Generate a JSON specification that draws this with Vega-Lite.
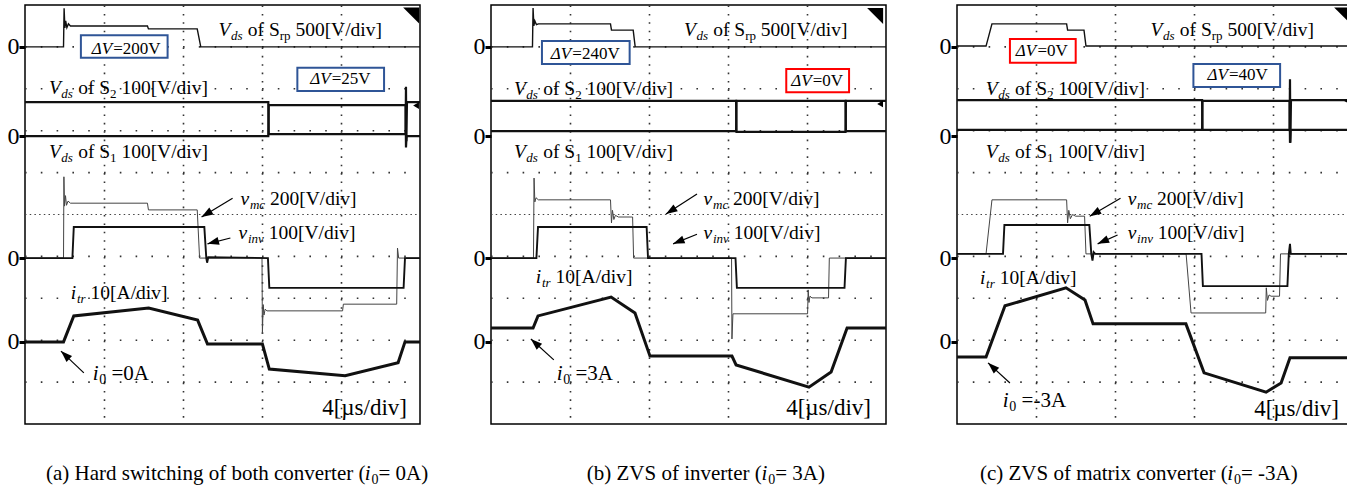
{
  "$schema": "https://vega.github.io/schema/vega-lite/v6.json",
  "background": "white",
  "padding": {"left": 6, "top": 4, "right": 5, "bottom": 5},
  "data": {"values": [
    {"p":"a","k":"gy","t":0,"t2":20,"v":1},{"p":"a","k":"gy","t":0,"t2":20,"v":2},{"p":"a","k":"gy","t":0,"t2":20,"v":3},{"p":"a","k":"gy","t":0,"t2":20,"v":4},
    {"p":"a","k":"gy","t":0,"t2":20,"v":6},{"p":"a","k":"gy","t":0,"t2":20,"v":7},{"p":"a","k":"gy","t":0,"t2":20,"v":8},{"p":"a","k":"gy","t":0,"t2":20,"v":9},
    {"p":"a","k":"gc","t":0,"t2":20,"v":5},
    {"p":"b","k":"gy","t":0,"t2":20,"v":1},{"p":"b","k":"gy","t":0,"t2":20,"v":2},{"p":"b","k":"gy","t":0,"t2":20,"v":3},{"p":"b","k":"gy","t":0,"t2":20,"v":4},
    {"p":"b","k":"gy","t":0,"t2":20,"v":6},{"p":"b","k":"gy","t":0,"t2":20,"v":7},{"p":"b","k":"gy","t":0,"t2":20,"v":8},{"p":"b","k":"gy","t":0,"t2":20,"v":9},
    {"p":"b","k":"gc","t":0,"t2":20,"v":5},
    {"p":"c","k":"gy","t":0,"t2":20,"v":1},{"p":"c","k":"gy","t":0,"t2":20,"v":2},{"p":"c","k":"gy","t":0,"t2":20,"v":3},{"p":"c","k":"gy","t":0,"t2":20,"v":4},
    {"p":"c","k":"gy","t":0,"t2":20,"v":6},{"p":"c","k":"gy","t":0,"t2":20,"v":7},{"p":"c","k":"gy","t":0,"t2":20,"v":8},{"p":"c","k":"gy","t":0,"t2":20,"v":9},
    {"p":"c","k":"gc","t":0,"t2":20,"v":5},

    {"p":"a","k":"box","zvs":false,"t":2.83,"t2":7.22,"v":9.28,"v2":8.74},
    {"p":"a","k":"box","zvs":false,"t":13.79,"t2":18.18,"v":8.5,"v2":7.95},
    {"p":"b","k":"box","zvs":false,"t":2.58,"t2":7.02,"v":9.14,"v2":8.59},
    {"p":"b","k":"box","zvs":true,"t":14.95,"t2":18.13,"v":8.47,"v2":7.92},
    {"p":"c","k":"box","zvs":true,"t":2.68,"t2":6.01,"v":9.19,"v2":8.62},
    {"p":"c","k":"box","zvs":false,"t":11.97,"t2":16.36,"v":8.59,"v2":8.04},

    {"p":"a","k":"srp","t":0,"v":9.0},{"p":"a","k":"srp","t":1.95,"v":9.0},{"p":"a","k":"srp","t":1.98,"v":9.92},{"p":"a","k":"srp","t":2.02,"v":9.45},{"p":"a","k":"srp","t":2.06,"v":9.62},{"p":"a","k":"srp","t":2.12,"v":9.46},{"p":"a","k":"srp","t":2.2,"v":9.55},{"p":"a","k":"srp","t":2.3,"v":9.5},{"p":"a","k":"srp","t":6.2,"v":9.5},{"p":"a","k":"srp","t":6.25,"v":9.43},{"p":"a","k":"srp","t":8.72,"v":9.43},{"p":"a","k":"srp","t":8.9,"v":9.0},{"p":"a","k":"srp","t":20,"v":9.0},
    {"p":"a","k":"s2","t":0,"v":7.68},{"p":"a","k":"s2","t":12.32,"v":7.68},{"p":"a","k":"s2","t":12.34,"v":6.92},{"p":"a","k":"s2","t":19.27,"v":6.92},{"p":"a","k":"s2","t":19.29,"v":8.05},{"p":"a","k":"s2","t":19.31,"v":6.75},{"p":"a","k":"s2","t":19.34,"v":7.68},{"p":"a","k":"s2","t":20,"v":7.68},
    {"p":"a","k":"s1","t":0,"v":6.87},{"p":"a","k":"s1","t":12.32,"v":6.87},{"p":"a","k":"s1","t":12.34,"v":7.61},{"p":"a","k":"s1","t":19.27,"v":7.61},{"p":"a","k":"s1","t":19.29,"v":6.6},{"p":"a","k":"s1","t":19.32,"v":6.87},{"p":"a","k":"s1","t":20,"v":6.87},
    {"p":"a","k":"vmc","t":0,"v":3.96},{"p":"a","k":"vmc","t":1.95,"v":3.96},{"p":"a","k":"vmc","t":1.97,"v":5.9},{"p":"a","k":"vmc","t":2.0,"v":5.2},{"p":"a","k":"vmc","t":2.05,"v":5.45},{"p":"a","k":"vmc","t":2.1,"v":5.22},{"p":"a","k":"vmc","t":2.18,"v":5.32},{"p":"a","k":"vmc","t":2.3,"v":5.27},{"p":"a","k":"vmc","t":6.2,"v":5.27},{"p":"a","k":"vmc","t":6.25,"v":5.11},{"p":"a","k":"vmc","t":8.72,"v":5.11},{"p":"a","k":"vmc","t":8.84,"v":3.96},{"p":"a","k":"vmc","t":12.0,"v":3.96},{"p":"a","k":"vmc","t":12.02,"v":2.15},{"p":"a","k":"vmc","t":12.06,"v":2.85},{"p":"a","k":"vmc","t":12.1,"v":2.6},{"p":"a","k":"vmc","t":12.16,"v":2.74},{"p":"a","k":"vmc","t":12.25,"v":2.7},{"p":"a","k":"vmc","t":16.08,"v":2.7},{"p":"a","k":"vmc","t":16.12,"v":2.86},{"p":"a","k":"vmc","t":18.82,"v":2.86},{"p":"a","k":"vmc","t":18.86,"v":4.2},{"p":"a","k":"vmc","t":18.92,"v":3.96},{"p":"a","k":"vmc","t":20,"v":3.96},
    {"p":"a","k":"vinv","t":0,"v":3.96},{"p":"a","k":"vinv","t":2.4,"v":3.96},{"p":"a","k":"vinv","t":2.47,"v":4.7},{"p":"a","k":"vinv","t":9.08,"v":4.7},{"p":"a","k":"vinv","t":9.18,"v":3.96},{"p":"a","k":"vinv","t":9.22,"v":3.85},{"p":"a","k":"vinv","t":9.28,"v":3.98},{"p":"a","k":"vinv","t":12.3,"v":3.96},{"p":"a","k":"vinv","t":12.37,"v":3.25},{"p":"a","k":"vinv","t":19.17,"v":3.25},{"p":"a","k":"vinv","t":19.24,"v":3.96},{"p":"a","k":"vinv","t":20,"v":3.96},
    {"p":"a","k":"itr","t":0,"v":1.96},{"p":"a","k":"itr","t":1.95,"v":1.96},{"p":"a","k":"itr","t":2.47,"v":2.58},{"p":"a","k":"itr","t":6.26,"v":2.77},{"p":"a","k":"itr","t":8.74,"v":2.48},{"p":"a","k":"itr","t":9.24,"v":1.91},{"p":"a","k":"itr","t":12.02,"v":1.91},{"p":"a","k":"itr","t":12.37,"v":1.31},{"p":"a","k":"itr","t":16.21,"v":1.15},{"p":"a","k":"itr","t":18.89,"v":1.46},{"p":"a","k":"itr","t":19.24,"v":1.96},{"p":"a","k":"itr","t":20,"v":1.96},

    {"p":"b","k":"srp","t":0,"v":9.0},{"p":"b","k":"srp","t":2.1,"v":9.0},{"p":"b","k":"srp","t":2.13,"v":9.93},{"p":"b","k":"srp","t":2.17,"v":9.5},{"p":"b","k":"srp","t":2.22,"v":9.62},{"p":"b","k":"srp","t":2.3,"v":9.53},{"p":"b","k":"srp","t":2.4,"v":9.55},{"p":"b","k":"srp","t":6.05,"v":9.55},{"p":"b","k":"srp","t":6.1,"v":9.4},{"p":"b","k":"srp","t":7.2,"v":9.4},{"p":"b","k":"srp","t":7.3,"v":9.0},{"p":"b","k":"srp","t":20,"v":9.0},
    {"p":"b","k":"s2","t":0,"v":7.71},{"p":"b","k":"s2","t":12.41,"v":7.71},{"p":"b","k":"s2","t":12.43,"v":6.97},{"p":"b","k":"s2","t":17.95,"v":6.97},{"p":"b","k":"s2","t":17.97,"v":7.71},{"p":"b","k":"s2","t":20,"v":7.71},
    {"p":"b","k":"s1","t":0,"v":6.99},{"p":"b","k":"s1","t":12.41,"v":6.99},{"p":"b","k":"s1","t":12.43,"v":7.71},{"p":"b","k":"s1","t":17.95,"v":7.71},{"p":"b","k":"s1","t":17.97,"v":6.99},{"p":"b","k":"s1","t":20,"v":6.99},
    {"p":"b","k":"vmc","t":0,"v":3.96},{"p":"b","k":"vmc","t":2.15,"v":3.96},{"p":"b","k":"vmc","t":2.18,"v":5.87},{"p":"b","k":"vmc","t":2.22,"v":5.3},{"p":"b","k":"vmc","t":2.28,"v":5.4},{"p":"b","k":"vmc","t":2.4,"v":5.35},{"p":"b","k":"vmc","t":6.05,"v":5.35},{"p":"b","k":"vmc","t":6.1,"v":4.8},{"p":"b","k":"vmc","t":6.15,"v":5.1},{"p":"b","k":"vmc","t":6.22,"v":4.88},{"p":"b","k":"vmc","t":6.3,"v":4.98},{"p":"b","k":"vmc","t":6.45,"v":4.94},{"p":"b","k":"vmc","t":7.17,"v":4.94},{"p":"b","k":"vmc","t":7.22,"v":3.96},{"p":"b","k":"vmc","t":12.18,"v":3.96},{"p":"b","k":"vmc","t":12.2,"v":2.03},{"p":"b","k":"vmc","t":12.25,"v":2.63},{"p":"b","k":"vmc","t":16.03,"v":2.63},{"p":"b","k":"vmc","t":16.06,"v":3.2},{"p":"b","k":"vmc","t":16.1,"v":2.9},{"p":"b","k":"vmc","t":16.15,"v":3.05},{"p":"b","k":"vmc","t":16.25,"v":3.01},{"p":"b","k":"vmc","t":17.09,"v":3.01},{"p":"b","k":"vmc","t":17.13,"v":3.96},{"p":"b","k":"vmc","t":20,"v":3.96},
    {"p":"b","k":"vinv","t":0,"v":3.96},{"p":"b","k":"vinv","t":2.3,"v":3.96},{"p":"b","k":"vinv","t":2.38,"v":4.7},{"p":"b","k":"vinv","t":7.88,"v":4.7},{"p":"b","k":"vinv","t":7.95,"v":3.96},{"p":"b","k":"vinv","t":12.38,"v":3.96},{"p":"b","k":"vinv","t":12.45,"v":3.25},{"p":"b","k":"vinv","t":17.9,"v":3.25},{"p":"b","k":"vinv","t":17.97,"v":3.96},{"p":"b","k":"vinv","t":20,"v":3.96},
    {"p":"b","k":"itr","t":0,"v":2.29},{"p":"b","k":"itr","t":2.13,"v":2.29},{"p":"b","k":"itr","t":2.38,"v":2.58},{"p":"b","k":"itr","t":6.08,"v":3.03},{"p":"b","k":"itr","t":7.29,"v":2.65},{"p":"b","k":"itr","t":8.05,"v":1.62},{"p":"b","k":"itr","t":12.2,"v":1.62},{"p":"b","k":"itr","t":12.41,"v":1.41},{"p":"b","k":"itr","t":16.1,"v":0.88},{"p":"b","k":"itr","t":17.22,"v":1.24},{"p":"b","k":"itr","t":18.03,"v":2.29},{"p":"b","k":"itr","t":20,"v":2.29},

    {"p":"c","k":"srp","t":0,"v":9.02},{"p":"c","k":"srp","t":1.47,"v":9.02},{"p":"c","k":"srp","t":1.77,"v":9.55},{"p":"c","k":"srp","t":5.55,"v":9.55},{"p":"c","k":"srp","t":5.6,"v":9.4},{"p":"c","k":"srp","t":6.43,"v":9.4},{"p":"c","k":"srp","t":6.53,"v":9.02},{"p":"c","k":"srp","t":20,"v":9.02},
    {"p":"c","k":"s2","t":0,"v":7.73},{"p":"c","k":"s2","t":12.41,"v":7.73},{"p":"c","k":"s2","t":12.43,"v":7.02},{"p":"c","k":"s2","t":16.84,"v":7.02},{"p":"c","k":"s2","t":16.86,"v":8.23},{"p":"c","k":"s2","t":16.88,"v":6.71},{"p":"c","k":"s2","t":16.91,"v":7.73},{"p":"c","k":"s2","t":20,"v":7.73},
    {"p":"c","k":"s1","t":0,"v":7.02},{"p":"c","k":"s1","t":12.41,"v":7.02},{"p":"c","k":"s1","t":12.43,"v":7.71},{"p":"c","k":"s1","t":16.84,"v":7.71},{"p":"c","k":"s1","t":16.86,"v":6.71},{"p":"c","k":"s1","t":16.89,"v":7.02},{"p":"c","k":"s1","t":20,"v":7.02},
    {"p":"c","k":"vmc","t":0,"v":4.06},{"p":"c","k":"vmc","t":1.47,"v":4.06},{"p":"c","k":"vmc","t":1.77,"v":5.35},{"p":"c","k":"vmc","t":5.55,"v":5.35},{"p":"c","k":"vmc","t":5.6,"v":4.8},{"p":"c","k":"vmc","t":5.66,"v":5.1},{"p":"c","k":"vmc","t":5.74,"v":4.9},{"p":"c","k":"vmc","t":5.85,"v":5.0},{"p":"c","k":"vmc","t":6.0,"v":4.96},{"p":"c","k":"vmc","t":6.46,"v":4.96},{"p":"c","k":"vmc","t":6.53,"v":4.06},{"p":"c","k":"vmc","t":11.6,"v":4.06},{"p":"c","k":"vmc","t":11.85,"v":2.65},{"p":"c","k":"vmc","t":15.63,"v":2.65},{"p":"c","k":"vmc","t":15.66,"v":3.25},{"p":"c","k":"vmc","t":15.72,"v":2.95},{"p":"c","k":"vmc","t":15.8,"v":3.08},{"p":"c","k":"vmc","t":15.9,"v":3.05},{"p":"c","k":"vmc","t":16.33,"v":3.05},{"p":"c","k":"vmc","t":16.38,"v":4.06},{"p":"c","k":"vmc","t":20,"v":4.06},
    {"p":"c","k":"vinv","t":0,"v":4.06},{"p":"c","k":"vinv","t":2.33,"v":4.06},{"p":"c","k":"vinv","t":2.4,"v":4.75},{"p":"c","k":"vinv","t":6.7,"v":4.75},{"p":"c","k":"vinv","t":6.8,"v":4.06},{"p":"c","k":"vinv","t":6.86,"v":3.9},{"p":"c","k":"vinv","t":6.92,"v":4.1},{"p":"c","k":"vinv","t":7.0,"v":4.06},{"p":"c","k":"vinv","t":12.38,"v":4.06},{"p":"c","k":"vinv","t":12.45,"v":3.29},{"p":"c","k":"vinv","t":16.73,"v":3.29},{"p":"c","k":"vinv","t":16.8,"v":4.06},{"p":"c","k":"vinv","t":16.86,"v":4.3},{"p":"c","k":"vinv","t":16.9,"v":4.06},{"p":"c","k":"vinv","t":20,"v":4.06},
    {"p":"c","k":"itr","t":0,"v":1.6},{"p":"c","k":"itr","t":1.47,"v":1.6},{"p":"c","k":"itr","t":2.43,"v":2.82},{"p":"c","k":"itr","t":5.52,"v":3.25},{"p":"c","k":"itr","t":6.48,"v":2.96},{"p":"c","k":"itr","t":6.89,"v":2.39},{"p":"c","k":"itr","t":11.59,"v":2.39},{"p":"c","k":"itr","t":12.51,"v":1.22},{"p":"c","k":"itr","t":15.65,"v":0.76},{"p":"c","k":"itr","t":16.41,"v":0.98},{"p":"c","k":"itr","t":16.86,"v":1.58},{"p":"c","k":"itr","t":20,"v":1.58},

    {"p":"a","k":"arr","t":10.51,"v":5.39,"t2":8.94,"v2":4.94},{"p":"a","k":"arr","t":10.4,"v":4.44,"t2":9.24,"v2":4.3},{"p":"a","k":"arr","t":2.98,"v":1.22,"t2":1.82,"v2":1.74},
    {"p":"b","k":"arr","t":10.43,"v":5.49,"t2":8.86,"v2":5.01},{"p":"b","k":"arr","t":10.43,"v":4.53,"t2":9.22,"v2":4.3},{"p":"b","k":"arr","t":3.18,"v":1.53,"t2":2.02,"v2":2.03},
    {"p":"c","k":"arr","t":8.28,"v":5.39,"t2":6.72,"v2":4.96},{"p":"c","k":"arr","t":8.13,"v":4.51,"t2":7.12,"v2":4.3},{"p":"c","k":"arr","t":2.68,"v":0.98,"t2":1.57,"v2":1.46},

    {"p":"a","k":"cm","t":19.55,"v":9.75},{"p":"b","k":"cm","t":19.45,"v":9.74},{"p":"c","k":"cm","t":19.5,"v":9.75},
    {"p":"a","k":"ch","t":19.8,"v":7.6},{"p":"b","k":"ch","t":19.7,"v":7.64},{"p":"c","k":"ch","t":19.75,"v":7.71},

    {"p":"a","k":"i","t":9.8,"v":9.4,"txt":"V"},{"p":"a","k":"s","t":10.43,"v":9.4,"txt":"ds"},{"p":"a","k":"n","t":11.28,"v":9.4,"txt":"of S"},{"p":"a","k":"sn","t":12.9,"v":9.4,"txt":"rp"},{"p":"a","k":"n","t":13.69,"v":9.4,"txt":"500[V/div]"},
    {"p":"a","k":"i","t":1.21,"v":8.02,"txt":"V"},{"p":"a","k":"s","t":1.84,"v":8.02,"txt":"ds"},{"p":"a","k":"n","t":2.69,"v":8.02,"txt":"of S"},{"p":"a","k":"sn","t":4.31,"v":8.02,"txt":"2"},{"p":"a","k":"n","t":4.88,"v":8.02,"txt":"100[V/div]"},
    {"p":"a","k":"i","t":1.21,"v":6.49,"txt":"V"},{"p":"a","k":"s","t":1.84,"v":6.49,"txt":"ds"},{"p":"a","k":"n","t":2.69,"v":6.49,"txt":"of S"},{"p":"a","k":"sn","t":4.31,"v":6.49,"txt":"1"},{"p":"a","k":"n","t":4.88,"v":6.49,"txt":"100[V/div]"},
    {"p":"a","k":"i","t":10.91,"v":5.37,"txt":"v"},{"p":"a","k":"s","t":11.39,"v":5.37,"txt":"mc"},{"p":"a","k":"n","t":12.4,"v":5.37,"txt":"200[V/div]"},
    {"p":"a","k":"i","t":10.81,"v":4.56,"txt":"v"},{"p":"a","k":"s","t":11.29,"v":4.56,"txt":"inv"},{"p":"a","k":"n","t":12.34,"v":4.56,"txt":"100[V/div]"},
    {"p":"a","k":"i","t":2.32,"v":3.13,"txt":"i"},{"p":"a","k":"s","t":2.63,"v":3.13,"txt":"tr"},{"p":"a","k":"n","t":3.32,"v":3.13,"txt":"10[A/div]"},
    {"p":"a","k":"ci","t":3.43,"v":1.19,"txt":"i"},{"p":"a","k":"cs","t":3.76,"v":1.19,"txt":"0"},{"p":"a","k":"cn","t":4.38,"v":1.19,"txt":"=0A"},
    {"p":"a","k":"di","t":3.38,"v":8.95,"txt":"ΔV"},{"p":"a","k":"dn","t":4.47,"v":8.95,"txt":"=200V"},
    {"p":"a","k":"di","t":14.44,"v":8.23,"txt":"ΔV"},{"p":"a","k":"dn","t":15.53,"v":8.23,"txt":"=25V"},
    {"p":"a","k":"tb","t":19.34,"v":0.38,"txt":"4[µs/div]"},
    {"p":"a","k":"cn","t":1.06,"v":-1.19,"txt":"(a) Hard switching of both converter ("},{"p":"a","k":"ci","t":17.2,"v":-1.19,"txt":"i"},{"p":"a","k":"cs","t":17.55,"v":-1.19,"txt":"0"},{"p":"a","k":"cn","t":17.9,"v":-1.19,"txt":"= 0A)"},

    {"p":"b","k":"i","t":9.77,"v":9.4,"txt":"V"},{"p":"b","k":"s","t":10.4,"v":9.4,"txt":"ds"},{"p":"b","k":"n","t":11.25,"v":9.4,"txt":"of S"},{"p":"b","k":"sn","t":12.87,"v":9.4,"txt":"rp"},{"p":"b","k":"n","t":13.66,"v":9.4,"txt":"500[V/div]"},
    {"p":"b","k":"i","t":1.16,"v":8.0,"txt":"V"},{"p":"b","k":"s","t":1.79,"v":8.0,"txt":"ds"},{"p":"b","k":"n","t":2.64,"v":8.0,"txt":"of S"},{"p":"b","k":"sn","t":4.26,"v":8.0,"txt":"2"},{"p":"b","k":"n","t":4.83,"v":8.0,"txt":"100[V/div]"},
    {"p":"b","k":"i","t":1.16,"v":6.49,"txt":"V"},{"p":"b","k":"s","t":1.79,"v":6.49,"txt":"ds"},{"p":"b","k":"n","t":2.64,"v":6.49,"txt":"of S"},{"p":"b","k":"sn","t":4.26,"v":6.49,"txt":"1"},{"p":"b","k":"n","t":4.83,"v":6.49,"txt":"100[V/div]"},
    {"p":"b","k":"i","t":10.76,"v":5.37,"txt":"v"},{"p":"b","k":"s","t":11.24,"v":5.37,"txt":"mc"},{"p":"b","k":"n","t":12.25,"v":5.37,"txt":"200[V/div]"},
    {"p":"b","k":"i","t":10.76,"v":4.55,"txt":"v"},{"p":"b","k":"s","t":11.24,"v":4.55,"txt":"inv"},{"p":"b","k":"n","t":12.29,"v":4.55,"txt":"100[V/div]"},
    {"p":"b","k":"i","t":2.27,"v":3.51,"txt":"i"},{"p":"b","k":"s","t":2.58,"v":3.51,"txt":"tr"},{"p":"b","k":"n","t":3.27,"v":3.51,"txt":"10[A/div]"},
    {"p":"b","k":"ci","t":3.33,"v":1.19,"txt":"i"},{"p":"b","k":"cs","t":3.66,"v":1.19,"txt":"0"},{"p":"b","k":"cn","t":4.28,"v":1.19,"txt":"=3A"},
    {"p":"b","k":"di","t":3.03,"v":8.83,"txt":"ΔV"},{"p":"b","k":"dn","t":4.12,"v":8.83,"txt":"=240V"},
    {"p":"b","k":"di","t":15.2,"v":8.19,"txt":"ΔV"},{"p":"b","k":"dn","t":16.29,"v":8.19,"txt":"=0V"},
    {"p":"b","k":"tb","t":19.24,"v":0.38,"txt":"4[µs/div]"},
    {"p":"b","k":"cn","t":4.85,"v":-1.19,"txt":"(b) ZVS of inverter ("},{"p":"b","k":"ci","t":13.69,"v":-1.19,"txt":"i"},{"p":"b","k":"cs","t":14.04,"v":-1.19,"txt":"0"},{"p":"b","k":"cn","t":14.39,"v":-1.19,"txt":"= 3A)"},

    {"p":"c","k":"i","t":9.8,"v":9.4,"txt":"V"},{"p":"c","k":"s","t":10.43,"v":9.4,"txt":"ds"},{"p":"c","k":"n","t":11.28,"v":9.4,"txt":"of S"},{"p":"c","k":"sn","t":12.9,"v":9.4,"txt":"rp"},{"p":"c","k":"n","t":13.69,"v":9.4,"txt":"500[V/div]"},
    {"p":"c","k":"i","t":1.46,"v":8.0,"txt":"V"},{"p":"c","k":"s","t":2.09,"v":8.0,"txt":"ds"},{"p":"c","k":"n","t":2.94,"v":8.0,"txt":"of S"},{"p":"c","k":"sn","t":4.56,"v":8.0,"txt":"2"},{"p":"c","k":"n","t":5.13,"v":8.0,"txt":"100[V/div]"},
    {"p":"c","k":"i","t":1.46,"v":6.49,"txt":"V"},{"p":"c","k":"s","t":2.09,"v":6.49,"txt":"ds"},{"p":"c","k":"n","t":2.94,"v":6.49,"txt":"of S"},{"p":"c","k":"sn","t":4.56,"v":6.49,"txt":"1"},{"p":"c","k":"n","t":5.13,"v":6.49,"txt":"100[V/div]"},
    {"p":"c","k":"i","t":8.64,"v":5.37,"txt":"v"},{"p":"c","k":"s","t":9.12,"v":5.37,"txt":"mc"},{"p":"c","k":"n","t":10.13,"v":5.37,"txt":"200[V/div]"},
    {"p":"c","k":"i","t":8.64,"v":4.56,"txt":"v"},{"p":"c","k":"s","t":9.12,"v":4.56,"txt":"inv"},{"p":"c","k":"n","t":10.17,"v":4.56,"txt":"100[V/div]"},
    {"p":"c","k":"i","t":1.16,"v":3.48,"txt":"i"},{"p":"c","k":"s","t":1.47,"v":3.48,"txt":"tr"},{"p":"c","k":"n","t":2.16,"v":3.48,"txt":"10[A/div]"},
    {"p":"c","k":"ci","t":2.32,"v":0.55,"txt":"i"},{"p":"c","k":"cs","t":2.65,"v":0.55,"txt":"0"},{"p":"c","k":"cn","t":3.27,"v":0.55,"txt":"=-3A"},
    {"p":"c","k":"di","t":2.98,"v":8.9,"txt":"ΔV"},{"p":"c","k":"dn","t":4.07,"v":8.9,"txt":"=0V"},
    {"p":"c","k":"di","t":12.68,"v":8.33,"txt":"ΔV"},{"p":"c","k":"dn","t":13.77,"v":8.33,"txt":"=40V"},
    {"p":"c","k":"tb","t":19.34,"v":0.36,"txt":"4[µs/div]"},
    {"p":"c","k":"cn","t":1.16,"v":-1.19,"txt":"(c) ZVS of matrix converter ("},{"p":"c","k":"ci","t":13.68,"v":-1.19,"txt":"i"},{"p":"c","k":"cs","t":14.03,"v":-1.19,"txt":"0"},{"p":"c","k":"cn","t":14.38,"v":-1.19,"txt":"= -3A)"}
  ]},
  "facet": {"column": {"field": "p", "type": "nominal", "header": {"title": null, "labels": false}}},
  "spacing": 42,
  "resolve": {"axis": {"y": "independent"}},
  "spec": {
    "width": 395,
    "height": 419,
    "encoding": {
      "x": {"field": "t", "type": "quantitative", "scale": {"domain": [0, 20], "nice": false, "zero": false},
            "axis": {"values": [4, 8, 12, 16], "grid": true, "gridDash": [1.6, 6.78], "gridColor": "#333", "gridWidth": 1.6, "labels": false, "ticks": false, "domain": false, "title": null}},
      "y": {"field": "v", "type": "quantitative", "scale": {"domain": [0, 10], "nice": false, "zero": false},
            "axis": {"values": [1.96, 3.96, 6.87, 9.0], "labelExpr": "'0'", "labelFont": "Liberation Serif", "labelFontSize": 24, "labelColor": "#000", "labelPadding": 0, "tickSize": 6, "tickWidth": 3, "tickColor": "#000", "domain": false, "grid": false, "title": null}}
    },
    "layer": [
      {"transform": [{"filter": "datum.k === 'gy'"}], "mark": {"type": "rule", "strokeDash": [1.6, 14.2], "strokeWidth": 1.6, "color": "#333"}, "encoding": {"x2": {"field": "t2"}}},
      {"transform": [{"filter": "datum.k === 'gc'"}], "mark": {"type": "rule", "strokeDash": [1.5, 3.2], "strokeWidth": 1.2, "color": "#444"}, "encoding": {"x2": {"field": "t2"}}},
      {"transform": [{"filter": "datum.k === 'box'"}], "mark": {"type": "rect", "fill": "white", "strokeWidth": 2},
       "encoding": {"x2": {"field": "t2"}, "y2": {"field": "v2"},
                    "stroke": {"field": "zvs", "type": "nominal", "scale": {"domain": [false, true], "range": ["#2F5597", "#FF0000"]}, "legend": null}}},
      {"transform": [{"filter": "datum.k === 'srp'"}], "mark": {"type": "line", "color": "#111", "strokeWidth": 1.4}, "encoding": {"order": {"value": null}}},
      {"transform": [{"filter": "datum.k === 's1' || datum.k === 's2'"}], "mark": {"type": "line", "color": "#111", "strokeWidth": 2.2}, "encoding": {"detail": {"field": "k"}, "order": {"value": null}}},
      {"transform": [{"filter": "datum.k === 'vmc'"}], "mark": {"type": "line", "color": "#444", "strokeWidth": 1}, "encoding": {"order": {"value": null}}},
      {"transform": [{"filter": "datum.k === 'vinv'"}], "mark": {"type": "line", "color": "#111", "strokeWidth": 1.9}, "encoding": {"order": {"value": null}}},
      {"transform": [{"filter": "datum.k === 'itr'"}], "mark": {"type": "line", "color": "#111", "strokeWidth": 3}, "encoding": {"order": {"value": null}}},
      {"transform": [{"filter": "datum.k === 'arr'"}], "mark": {"type": "rule", "color": "#000", "strokeWidth": 1.2},
       "encoding": {"x2": {"field": "t2"}, "y2": {"field": "v2"}}},
      {"transform": [{"filter": "datum.k === 'arr'"}, {"calculate": "atan2((datum.t2 - datum.t) * 19.75, (datum.v2 - datum.v) * 41.9) * 180 / PI", "as": "ang"}],
       "mark": {"type": "point", "shape": "M0,0L-0.8,2.3L0.8,2.3Z", "filled": true, "size": 100, "color": "#000", "opacity": 1},
       "encoding": {"x": {"field": "t2", "type": "quantitative"}, "y": {"field": "v2", "type": "quantitative"}, "angle": {"field": "ang", "type": "quantitative", "scale": null}}},
      {"transform": [{"filter": "datum.k === 'cm'"}], "mark": {"type": "point", "shape": "M-1,-1L1,-1L1,1Z", "filled": true, "size": 256, "color": "#000", "opacity": 1}},
      {"transform": [{"filter": "datum.k === 'ch'"}], "mark": {"type": "point", "shape": "triangle-left", "filled": true, "size": 45, "color": "#000", "opacity": 1}},
      {"transform": [{"filter": "datum.k === 'n'"}], "mark": {"type": "text", "align": "left", "baseline": "middle", "font": "Liberation Serif", "fontSize": 19.5, "color": "#000"}, "encoding": {"text": {"field": "txt"}}},
      {"transform": [{"filter": "datum.k === 'i'"}], "mark": {"type": "text", "align": "left", "baseline": "middle", "font": "Liberation Serif", "fontStyle": "italic", "fontSize": 19.5, "color": "#000"}, "encoding": {"text": {"field": "txt"}}},
      {"transform": [{"filter": "datum.k === 's'"}], "mark": {"type": "text", "align": "left", "baseline": "middle", "dy": 6, "font": "Liberation Serif", "fontStyle": "italic", "fontSize": 13, "color": "#000"}, "encoding": {"text": {"field": "txt"}}},
      {"transform": [{"filter": "datum.k === 'sn'"}], "mark": {"type": "text", "align": "left", "baseline": "middle", "dy": 6, "font": "Liberation Serif", "fontSize": 13, "color": "#000"}, "encoding": {"text": {"field": "txt"}}},
      {"transform": [{"filter": "datum.k === 'dn'"}], "mark": {"type": "text", "align": "left", "baseline": "middle", "font": "Liberation Serif", "fontSize": 17, "color": "#000"}, "encoding": {"text": {"field": "txt"}}},
      {"transform": [{"filter": "datum.k === 'di'"}], "mark": {"type": "text", "align": "left", "baseline": "middle", "font": "Liberation Serif", "fontStyle": "italic", "fontSize": 17, "color": "#000"}, "encoding": {"text": {"field": "txt"}}},
      {"transform": [{"filter": "datum.k === 'cn'"}], "mark": {"type": "text", "align": "left", "baseline": "middle", "font": "Liberation Serif", "fontSize": 21, "color": "#000"}, "encoding": {"text": {"field": "txt"}}},
      {"transform": [{"filter": "datum.k === 'ci'"}], "mark": {"type": "text", "align": "left", "baseline": "middle", "font": "Liberation Serif", "fontStyle": "italic", "fontSize": 21, "color": "#000"}, "encoding": {"text": {"field": "txt"}}},
      {"transform": [{"filter": "datum.k === 'cs'"}], "mark": {"type": "text", "align": "left", "baseline": "middle", "dy": 6, "font": "Liberation Serif", "fontSize": 14, "color": "#000"}, "encoding": {"text": {"field": "txt"}}},
      {"transform": [{"filter": "datum.k === 'tb'"}], "mark": {"type": "text", "align": "right", "baseline": "middle", "font": "Liberation Serif", "fontSize": 23, "color": "#000"}, "encoding": {"text": {"field": "txt"}}}
    ]
  },
  "config": {
    "view": {"stroke": "#000", "strokeWidth": 1.5},
    "font": "Liberation Serif"
  }
}
